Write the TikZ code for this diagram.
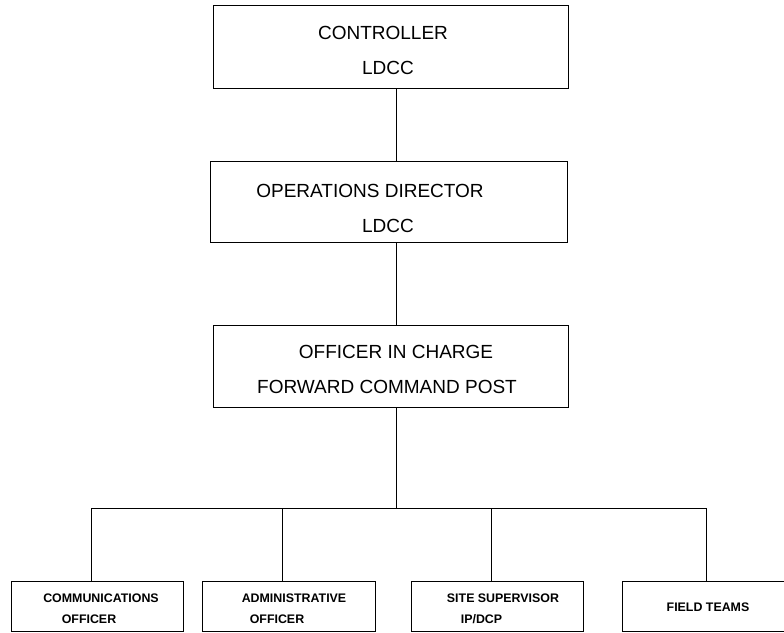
\documentclass[tikz,border=0pt]{standalone}
\usepackage{fontspec}
\setmainfont{Liberation Sans}
\begin{document}
\begin{tikzpicture}[x=1pt,y=-1pt,
  box/.style={draw=black, line width=1pt, rectangle, inner sep=0pt, anchor=north west},
  big/.style={font=\fontsize{19}{22}\selectfont, inner sep=0pt},
  small/.style={font=\fontsize{12.4}{14}\selectfont\bfseries, inner sep=0pt},
  link/.style={draw=black, line width=1pt}]
\useasboundingbox (0,0) rectangle (784,632);
\clip (0,0) rectangle (784,632);
% top level boxes
\node[box, minimum width=355pt, minimum height=83pt] (ctrl) at (213,5) {};
\node[big] (ctrlA) at (383,33) {CONTROLLER};
\node[big] (ctrlB) at (388,68) {LDCC};
\node[box, minimum width=357pt, minimum height=81pt] (ops) at (210,161) {};
\node[big] (opsA) at (370,191) {OPERATIONS DIRECTOR};
\node[big] (opsB) at (388,226) {LDCC};
\node[box, minimum width=355pt, minimum height=82pt] (oic) at (213,325) {};
\node[big] (oicA) at (396,352) {OFFICER IN CHARGE};
\node[big] (oicB) at (387,387) {FORWARD COMMAND POST};
% bottom boxes
\node[box, minimum width=172pt, minimum height=50pt] (b1) at (11,581) {};
\node[small] (b1A) at (101,598) {COMMUNICATIONS};
\node[small] (b1B) at (89,619) {OFFICER};
\node[box, minimum width=173pt, minimum height=50pt] (b2) at (202,581) {};
\node[small] (b2A) at (294,598) {ADMINISTRATIVE};
\node[small] (b2B) at (277,619) {OFFICER};
\node[box, minimum width=172pt, minimum height=50pt] (b3) at (411,581) {};
\node[small] (b3A) at (503,598) {SITE SUPERVISOR};
\node[small] (b3B) at (481.5,619) {IP/DCP};
\node[box, minimum width=172pt, minimum height=50pt] (b4) at (622,581) {};
\node[small] (b4A) at (708,607) {FIELD TEAMS};
% junctions
\coordinate (j) at (396,508);
\coordinate (t1) at (91,508);
\coordinate (t2) at (282,508);
\coordinate (t3) at (491,508);
\coordinate (t4) at (706,508);
% connectors
\draw[link] (j |- ctrl.south) -- (j |- ops.north);
\draw[link] (j |- ops.south) -- (j |- oic.north);
\draw[link] (j |- oic.south) -- (j);
\draw[link] (t1) -- (t4);
\draw[link] (t1) -- (t1 |- b1.north);
\draw[link] (t2) -- (t2 |- b2.north);
\draw[link] (t3) -- (t3 |- b3.north);
\draw[link] (t4) -- (t4 |- b4.north);
\end{tikzpicture}
\end{document}
